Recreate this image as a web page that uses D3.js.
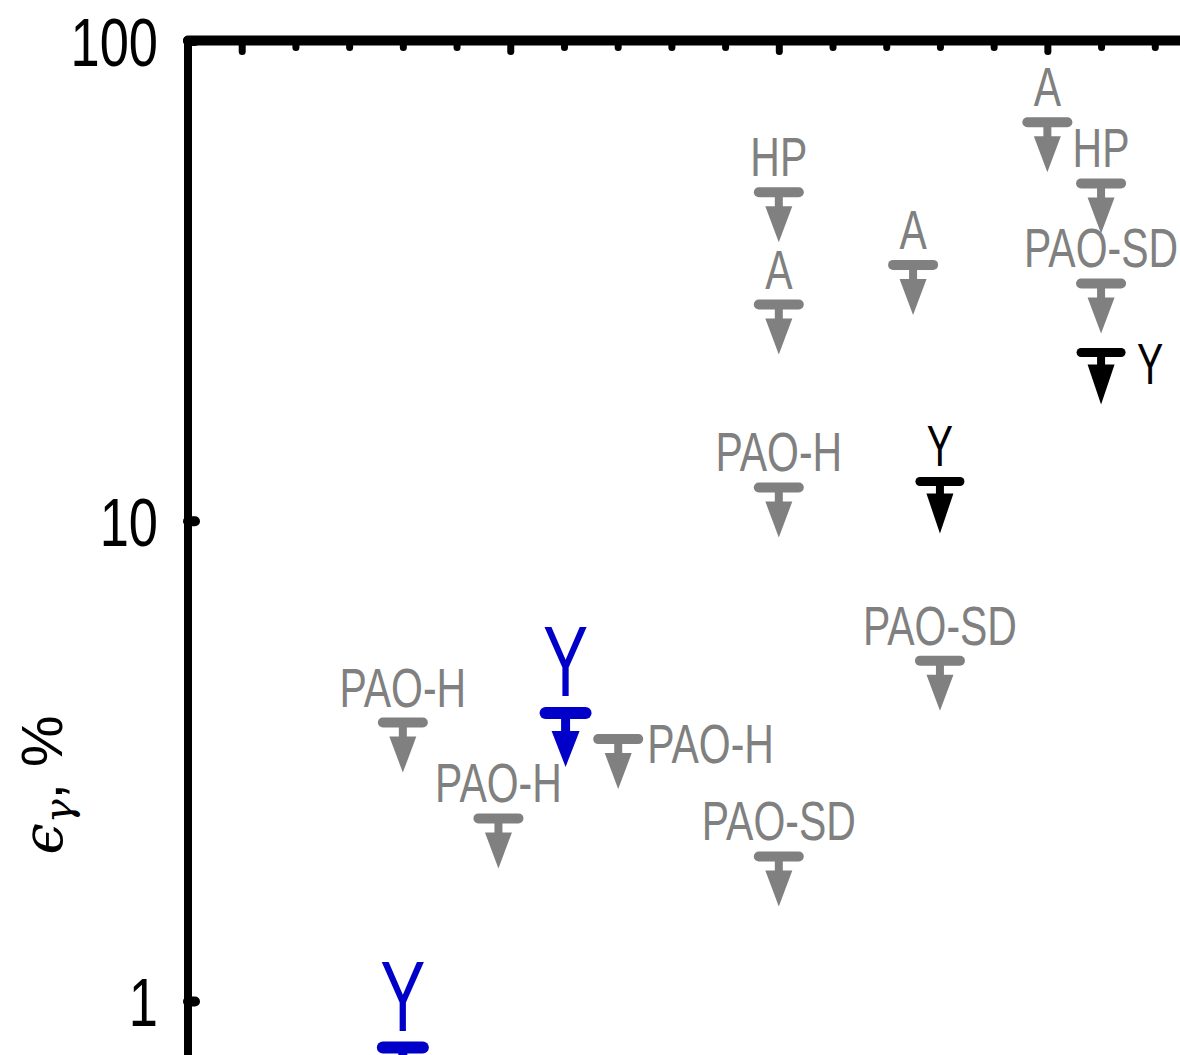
<!DOCTYPE html>
<html>
<head>
<meta charset="utf-8">
<script src="https://cdn.jsdelivr.net/npm/d3@7"></script>
<style>
  html, body { margin: 0; padding: 0; background: #ffffff; }
  svg { display: block; }
</style>
</head>
<body>
<svg id="chart" width="1180" height="1055"></svg>
<script>
// ---------------- data ----------------
const xMajorTicks = [0, 5, 10, 15];
const xMinorTicks = [1, 2, 3, 4, 6, 7, 8, 9, 11, 12, 13, 14, 16, 17];
const yTicks = [1, 10, 100];
const yTickLabels = ["1", "10", "100"];

const grayX      = [3, 4.78, 7.01, 10, 10, 10, 10, 12.5, 13, 15, 16, 16];
const grayY      = [3.80, 2.40, 3.51, 48.3, 28.2, 11.73, 2.00, 34.1, 5.11, 67.6, 50.4, 31.2];
const grayLabels = ["PAO-H", "PAO-H", "PAO-H", "HP", "A", "PAO-H", "PAO-SD", "A", "PAO-SD", "A", "HP", "PAO-SD"];
const graySide   = ["above", "above", "right", "above", "above", "above", "above", "above", "above", "above", "above", "above"];

const blackX      = [13, 16];
const blackY      = [12.07, 22.4];
const blackLabels = ["Y", "Y"];
const blackSide   = ["above", "right"];

const blueX      = [3, 6.03];
const blueY      = [0.80, 3.98];
const blueLabels = ["Y", "Y"];
const blueSide   = ["above", "above"];

// ---------------- layout ----------------
const svg = d3.select("#chart");
const x = d3.scaleLinear().domain([-1, 18]).range([188, 188 + 19 * 53.71]);
const y = d3.scaleLog().domain([1, 100]).range([1001, 40.5]);

const FONT = "'Liberation Sans', Arial, Helvetica, sans-serif";

// axis lines
svg.append("line")
  .attr("x1", x(-1)).attr("x2", 1200)
  .attr("y1", y(100)).attr("y2", y(100))
  .attr("stroke", "#000").attr("stroke-width", 10).attr("stroke-linecap", "round");
svg.append("line")
  .attr("x1", x(-1)).attr("x2", x(-1))
  .attr("y1", y(100)).attr("y2", 1080)
  .attr("stroke", "#000").attr("stroke-width", 8).attr("stroke-linecap", "round");

// top axis ticks (inward)
const topMajor = svg.append("g").attr("transform", `translate(0,${y(100)})`)
  .call(d3.axisTop(x).tickValues(xMajorTicks).tickSize(-11).tickFormat(""));
const topMinor = svg.append("g").attr("transform", `translate(0,${y(100)})`)
  .call(d3.axisTop(x).tickValues(xMinorTicks).tickSize(-7).tickFormat(""));
[topMajor, topMinor].forEach(g => {
  g.select(".domain").remove();
  g.selectAll(".tick line").attr("stroke", "#000").attr("stroke-width", 7).attr("stroke-linecap", "round");
});

// left axis ticks (inward)
const leftAx = svg.append("g").attr("transform", `translate(${x(-1)},0)`)
  .call(d3.axisLeft(y).tickValues(yTicks).tickSize(-7).tickFormat(""));
leftAx.select(".domain").remove();
leftAx.selectAll(".tick line").attr("stroke", "#000").attr("stroke-width", 10).attr("stroke-linecap", "round");

// y tick labels
svg.append("g").selectAll("text")
  .data(yTicks)
  .join("text")
  .attr("transform", d => `translate(158,${y(d) + 25}) scale(0.76,1)`)
  .attr("text-anchor", "end")
  .attr("font-family", FONT)
  .attr("font-size", 69)
  .attr("fill", "#000")
  .text((d, i) => yTickLabels[i]);

// y axis title
const yt = svg.append("text")
  .attr("transform", "translate(62,785) rotate(-90)")
  .attr("text-anchor", "middle")
  .attr("fill", "#000");
yt.append("tspan").attr("font-family", "'DejaVu Serif', serif").attr("font-style", "italic").attr("font-size", 56).text("ϵ");
yt.append("tspan").attr("font-family", "'DejaVu Serif', serif").attr("font-style", "italic").attr("font-size", 40).attr("dy", 10).text("γ");
yt.append("tspan").attr("font-family", FONT).attr("font-size", 58).attr("dy", -10).text(", %");

// ---------------- markers ----------------
function drawSeries(xs, ys, labels, sides, st) {
  const data = xs.map((d, i) => ({ x: d, y: ys[i], label: labels[i], side: sides[i] }));
  const g = svg.append("g");
  const m = g.selectAll("g.mk").data(data).join("g")
    .attr("class", "mk")
    .attr("transform", d => `translate(${x(d.x)},${y(d.y)})`);
  m.append("line")
    .attr("x1", -20).attr("x2", 20).attr("y1", 0).attr("y2", 0)
    .attr("stroke", st.color).attr("stroke-width", st.bar).attr("stroke-linecap", "round");
  m.append("line")
    .attr("x1", 0).attr("x2", 0).attr("y1", 0).attr("y2", st.triTop + 2)
    .attr("stroke", st.color).attr("stroke-width", st.stem);
  m.append("path")
    .attr("d", `M${-st.triW / 2},${st.triTop} L${st.triW / 2},${st.triTop} L0,${st.tip} Z`)
    .attr("fill", st.color);
  m.append("text")
    .attr("transform", d => d.side === "right"
      ? `translate(${st.rdx},${st.rdy}) scale(${st.sx},1)`
      : `translate(0,${-st.gap}) scale(${st.sx},1)`)
    .attr("text-anchor", d => d.side === "right" ? "start" : "middle")
    .attr("font-family", FONT)
    .attr("font-size", st.fs)
    .attr("fill", st.color)
    .text(d => d.label);
}

drawSeries(grayX, grayY, grayLabels, graySide,
  { color: "#808080", bar: 10, stem: 8, triTop: 14, triW: 27, tip: 50, fs: 55, sx: 0.745, gap: 16, rdx: 29, rdy: 24 });
drawSeries(blackX, blackY, blackLabels, blackSide,
  { color: "#000000", bar: 9, stem: 8, triTop: 12, triW: 27, tip: 52, fs: 57, sx: 0.69, gap: 16, rdx: 36, rdy: 31 });
drawSeries(blueX, blueY, blueLabels, blueSide,
  { color: "#0000c8", bar: 12, stem: 9, triTop: 18, triW: 28, tip: 54, fs: 101, sx: 0.67, gap: 17, rdx: 30, rdy: 30 });
</script>
</body>
</html>
